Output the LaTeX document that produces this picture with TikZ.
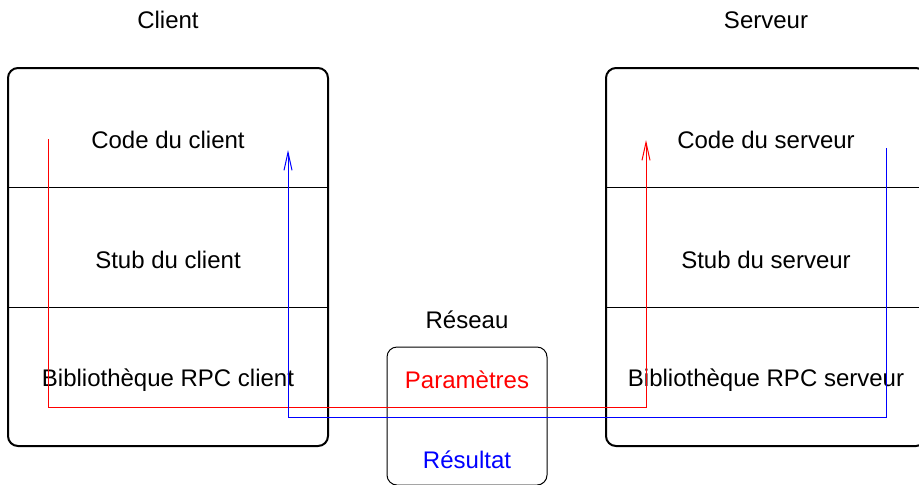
\documentclass[tikz,border=0pt]{standalone}
\usepackage{fontspec}
\setmainfont{Liberation Sans}
\usetikzlibrary{arrows.meta,positioning,calc}

\begin{document}
\begin{tikzpicture}[x=0.5pt, y=-0.5pt, font=\fontsize{12}{14}\selectfont,
    machine/.style={draw, line width=1pt, rounded corners=5pt, inner sep=0pt,
      minimum width=160pt, minimum height=189pt},
    canal/.style={draw, line width=0.5pt, rounded corners=5pt, inner sep=0pt,
      minimum width=80pt, minimum height=69pt},
    couche/.style={line width=0.5pt},
    aller/.style={red, line width=0.5pt, -{Straight Barb[length=9pt,width=4pt]}},
    retour/.style={blue, line width=0.5pt, -{Straight Barb[length=9pt,width=4pt]}}]
  \clip (0,0) rectangle (919,484);
  % Client
  \node[machine] (client) at (168,257) {};
  \node (tclient) at (168,20) {Client};
  \draw[couche] (8,187) -- (328,187);
  \draw[couche] (8,307) -- (328,307);
  \node (ccode) at (168,140) {Code du client};
  \node (cstub) at (168,260) {Stub du client};
  \node (cbib) at (168,380) {Bibliothèque RPC client};
  % Serveur
  \node[machine] (serveur) at (766,257) {};
  \node (tserveur) at (766,20) {Serveur};
  \draw[couche] (606,187) -- (926,187);
  \draw[couche] (606,307) -- (926,307);
  \node (scode) at (766,140) {Code du serveur};
  \node (sstub) at (766,260) {Stub du serveur};
  \node (sbib) at (766,380) {Bibliothèque RPC serveur};
  % Reseau
  \node[canal] (reseau) at (467,416) {};
  \node (treseau) at (467,320) {Réseau};
  \node[red] (param) at (467,380) {Paramètres};
  \node[blue] (res) at (467,460) {Résultat};
  % Appel et retour
  \coordinate (rdep) at (48,139);
  \coordinate (rbas) at (48,407);
  \coordinate (rarr) at (646,140);
  \draw[aller] (rdep) -- (rbas) -| (rarr);
  \coordinate (bdep) at (886,148);
  \coordinate (bbas) at (886,417);
  \coordinate (barr) at (288,150);
  \draw[retour] (bdep) -- (bbas) -| (barr);
\end{tikzpicture}
\end{document}
